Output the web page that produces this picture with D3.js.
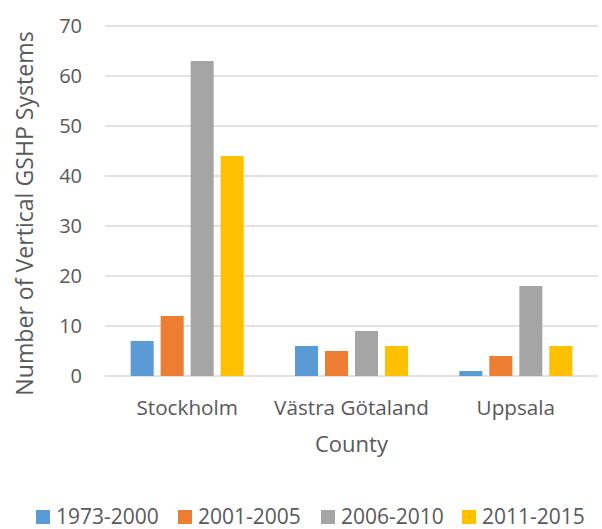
<!DOCTYPE html>
<html><head><meta charset="utf-8">
<script src="https://cdn.jsdelivr.net/npm/d3@7"></script>
<style>
html,body{margin:0;padding:0;background:#fff;}
svg text{font-family:"Open Sans",sans-serif;fill:#595959;}
</style></head>
<body>
<svg id="chart" width="602" height="529"></svg>
<script>
const categories = ["Stockholm", "Västra Götaland", "Uppsala"];
const seriesNames = ["1973-2000", "2001-2005", "2006-2010", "2011-2015"];
const s1973_2000 = [7, 6, 1];
const s2001_2005 = [12, 5, 4];
const s2006_2010 = [63, 9, 18];
const s2011_2015 = [44, 6, 6];
const seriesValues = [s1973_2000, s2001_2005, s2006_2010, s2011_2015];
const colors = ["#5B9BD5", "#ED7D31", "#A5A5A5", "#FFC000"];
const yTicks = [0, 10, 20, 30, 40, 50, 60, 70];
const yTitle = "Number of Vertical GSHP Systems";
const xTitle = "County";

(function () {
const svg = d3.select("#chart");
const pl = 105, pr = 598, pt = 26, pb = 376;

const y = d3.scaleLinear().domain([0, 70]).range([pb, pt]);
const x0 = d3.scaleBand().domain(categories).range([pl, pr]).padding(0);
const groupW = 113;
const x1 = d3.scaleBand().domain(seriesNames).range([0, groupW]).paddingInner(0.233).paddingOuter(0);

// gridlines
svg.append("g").selectAll("line").data(yTicks).join("line")
  .attr("x1", pl).attr("x2", pr)
  .attr("y1", d => y(d)).attr("y2", d => y(d))
  .attr("stroke", "#D9D9D9").attr("stroke-width", 1.5);

// y tick labels
svg.append("g").selectAll("text").data(yTicks).join("text")
  .attr("x", 82).attr("y", d => y(d)).attr("dy", "0.36em")
  .attr("text-anchor", "end").style("font-size", "20px")
  .text(d => d);

// bars
const data = [];
categories.forEach((c, ci) => seriesNames.forEach((s, si) => data.push({c, s, si, v: seriesValues[si][ci]})));
svg.append("g").selectAll("rect").data(data).join("rect")
  .attr("x", d => x0(d.c) + (x0.bandwidth() - groupW) / 2 + x1(d.s))
  .attr("width", x1.bandwidth())
  .attr("y", d => y(d.v))
  .attr("height", d => y(0) - y(d.v))
  .attr("fill", d => colors[d.si]);

// category labels
svg.append("g").selectAll("text").data(categories).join("text")
  .attr("x", d => x0(d) + x0.bandwidth() / 2).attr("y", 415)
  .attr("text-anchor", "middle").style("font-size", "20.7px")
  .text(d => d);

// axis titles
svg.append("text").attr("x", (pl + pr) / 2).attr("y", 452)
  .attr("text-anchor", "middle").style("font-size", "22px").text(xTitle);
svg.append("text").attr("transform", "translate(33,213.5) rotate(-90)")
  .attr("text-anchor", "middle").style("font-size", "23.1px").text(yTitle);

// legend
const legendX = [36, 178, 321, 462];
const lg = svg.append("g").selectAll("g").data(seriesNames).join("g")
  .attr("transform", (d, i) => `translate(${legendX[i]},0)`);
lg.append("rect").attr("x", 0).attr("y", 510).attr("width", 14).attr("height", 14)
  .attr("fill", (d, i) => colors[i]);
lg.append("text").attr("x", 20).attr("y", 524).style("font-size", "21px").text(d => d);
})();
</script>
</body></html>
